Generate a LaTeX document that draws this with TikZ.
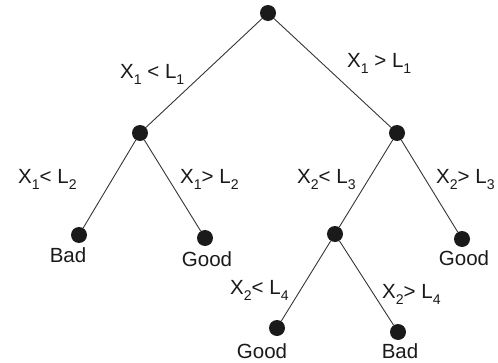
\documentclass[tikz,border=0pt]{standalone}
\usepackage{fontspec}
\setmainfont{Liberation Sans}
\usepackage{tikz}
\usepackage{xcolor}
\usetikzlibrary{positioning}
\definecolor{ink}{HTML}{1A1A1A}
\definecolor{branch}{HTML}{333333}
\tikzset{
  split/.style={circle,fill=ink,draw=none,minimum size=0.48cm,inner sep=0pt},
  branchline/.style={draw=branch,line width=0.75pt},
  cond/.style={anchor=base west,inner sep=0pt,font=\fontsize{17.5}{19}\selectfont,text=ink},
  verdict/.style={anchor=base,inner sep=0pt,font=\fontsize{17.5}{19}\selectfont,text=ink}
}
\newcommand{\sub}[1]{\raisebox{-0.32em}{\fontsize{12}{12}\selectfont #1}}
\begin{document}
\begin{tikzpicture}[x=0.03cm,y=-0.03cm]
    \path[use as bounding box,fill=white] (0,0) rectangle (498,363);
    % split points
    \node[split] (root) at (268,13) {};
    \node[split] (nL) at (140,133) {};
    \node[split] (nR) at (397,133) {};
    \node[split] (nLL) at (79,235) {};
    \node[split] (nLR) at (205,238) {};
    \node[split] (nRL) at (335,234) {};
    \node[split] (nRR) at (462,239) {};
    \node[split] (nRLL) at (277,328) {};
    \node[split] (nRLR) at (398,332) {};
    % branches
    \draw[branchline] (root) -- (nL);
    \draw[branchline] (root) -- (nR);
    \draw[branchline] (nL) -- (nLL);
    \draw[branchline] (nL) -- (nLR);
    \draw[branchline] (nR) -- (nRL);
    \draw[branchline] (nR) -- (nRR);
    \draw[branchline] (nRL) -- (nRLL);
    \draw[branchline] (nRL) -- (nRLR);
    % conditions
    \node[cond] (c1) at (120,78) {X\sub{1} < L\sub{1}};
    \node[cond] (c2) at (347,67) {X\sub{1} > L\sub{1}};
    \node[cond] (c3) at (18,183) {X\sub{1}< L\sub{2}};
    \node[cond] (c4) at (180,183) {X\sub{1}> L\sub{2}};
    \node[cond] (c5) at (297,183) {X\sub{2}< L\sub{3}};
    \node[cond] (c6) at (436,183) {X\sub{2}> L\sub{3}};
    \node[cond] (c7) at (230,294) {X\sub{2}< L\sub{4}};
    \node[cond] (c8) at (382,298) {X\sub{2}> L\sub{4}};
    % outcomes
    \node[verdict] (vLL) at (68,262) {Bad};
    \node[verdict] (vLR) at (207,266) {Good};
    \node[verdict] (vRR) at (464,265) {Good};
    \node[verdict] (vRLL) at (262,358) {Good};
    \node[verdict] (vRLR) at (400,358) {Bad};
\end{tikzpicture}
\end{document}
